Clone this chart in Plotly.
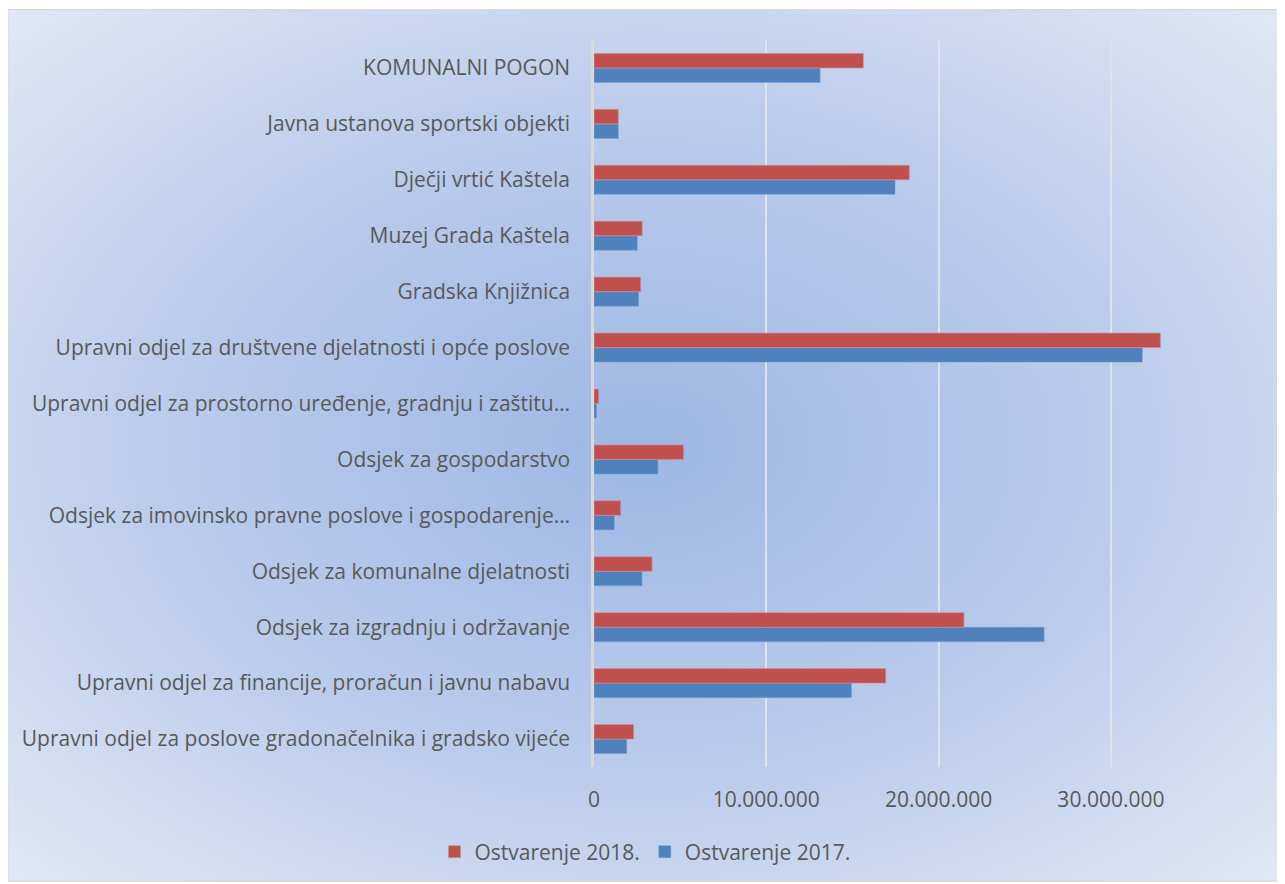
import base64
import plotly.graph_objects as go

categories = [
    "Upravni odjel za poslove gradonačelnika i gradsko vijeće",
    "Upravni odjel za financije, proračun i javnu nabavu",
    "Odsjek za izgradnju i održavanje",
    "Odsjek za komunalne djelatnosti",
    "Odsjek za imovinsko pravne poslove i gospodarenje…",
    "Odsjek za gospodarstvo",
    "Upravni odjel za prostorno uređenje, gradnju i zaštitu…",
    "Upravni odjel za društvene djelatnosti i opće poslove",
    "Gradska Knjižnica",
    "Muzej Grada Kaštela",
    "Dječji vrtić Kaštela",
    "Javna ustanova sportski objekti",
    "KOMUNALNI POGON",
]
ostvarenje_2017 = [1900000, 14940000, 26120000, 2790000, 1180000, 3710000, 150000,
                   31820000, 2590000, 2510000, 17470000, 1410000, 13120000]
ostvarenje_2018 = [2300000, 16930000, 21470000, 3370000, 1550000, 5200000, 270000,
                   32870000, 2710000, 2800000, 18300000, 1410000, 15630000]
tick_values = [0, 10000000, 20000000, 30000000]
tick_labels = ["0", "10.000.000", "20.000.000", "30.000.000"]

OFF = 8  # page body margin
W, H = 1285 - OFF, 884 - OFF
L, T = 594 - OFF, 40 - OFF
R = W - (1266 - OFF)
B = H - (767 - OFF)
pw, ph = W - L - R, H - T - B

bx0, by0 = 7 - OFF, 9 - OFF
bw, bh = 1274, 873

svg = f'''<svg xmlns="http://www.w3.org/2000/svg" width="{bw}" height="{bh}" viewBox="0 0 {bw} {bh}" preserveAspectRatio="none">
<defs><radialGradient id="g" cx="50%" cy="50%" r="72%">
<stop offset="0%" stop-color="#9db7e4"/>
<stop offset="55%" stop-color="#bccdec"/>
<stop offset="100%" stop-color="#e3e9f5"/>
</radialGradient></defs>
<rect x="0.75" y="0.75" width="{bw - 1.5}" height="{bh - 1.5}" fill="url(#g)" stroke="#d9d9d9" stroke-width="1.5"/>
</svg>'''
src = "data:image/svg+xml;base64," + base64.b64encode(svg.encode()).decode()

fig = go.Figure()
fig.add_trace(go.Bar(y=categories, x=ostvarenje_2017, orientation="h", name="Ostvarenje 2017.",
                     marker=dict(color="#4f81bd", line=dict(color="rgba(120,160,210,0.6)", width=1))))
fig.add_trace(go.Bar(y=categories, x=ostvarenje_2018, orientation="h", name="Ostvarenje 2018.",
                     marker=dict(color="#c0504d", line=dict(color="rgba(210,140,150,0.7)", width=1))))

fig.add_layout_image(dict(source=src, xref="paper", yref="paper",
                          x=(bx0 - L) / pw, y=(H - B - by0) / ph,
                          sizex=bw / pw, sizey=bh / ph,
                          sizing="stretch", layer="below", xanchor="left", yanchor="top"))

fig.update_layout(
    width=W, height=H,
    margin=dict(l=L, r=R, t=T, b=B, autoexpand=False),
    paper_bgcolor="white", plot_bgcolor="rgba(0,0,0,0)",
    barmode="group", bargap=0.48, bargroupgap=0,
    font=dict(family="'Open Sans', Lato, sans-serif", size=21, color="#595959"),
    showlegend=True,
    legend=dict(orientation="h", x=(645 - OFF - L) / pw, xanchor="center",
                y=-(852 - 767) / ph, yanchor="middle", traceorder="reversed",
                bgcolor="rgba(0,0,0,0)", font=dict(size=21, color="#595959"), itemwidth=30),
    xaxis=dict(range=[0, 39000000], tickvals=tick_values, ticktext=tick_labels,
               showgrid=True, gridcolor="#dde3ec", gridwidth=1.5, zeroline=False,
               showline=False, ticks="", ticklabelstandoff=18, fixedrange=True),
    yaxis=dict(showgrid=False, zeroline=False, showline=True, linecolor="#d9d9d9", linewidth=2.5,
               ticks="", ticklabelstandoff=17, categoryorder="array", categoryarray=categories),
)

fig.write_html("out.html")
